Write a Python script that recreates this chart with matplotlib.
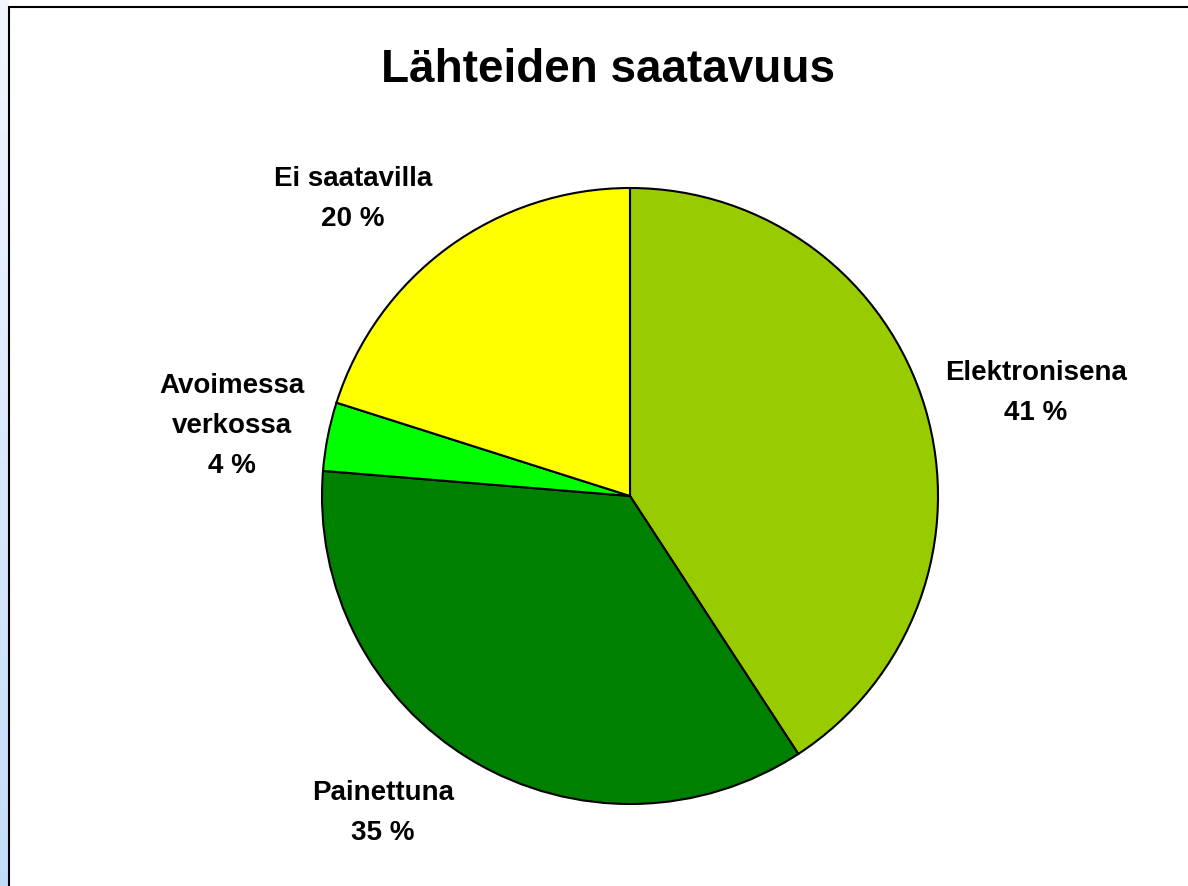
import numpy as np
import matplotlib
matplotlib.use("Agg")
from matplotlib import pyplot as plt
from matplotlib.patches import Rectangle

plt.rcParams['font.family'] = ['Liberation Sans', 'DejaVu Sans']

# data
labels = ["Elektronisena", "Painettuna", "Avoimessa\nverkossa", "Ei saatavilla"]
values = [40.8, 35.5, 3.6, 20.1]
shown = ["41 %", "35 %", "4 %", "20 %"]
colors = ["#99cc00", "#008000", "#00ff00", "#ffff00"]

# label centres in pie units (radius = 1)
label_pos = [(1.318, 0.335), (-0.802, -1.03), (-1.292, 0.228), (-0.899, 0.965)]

W, H = 1188, 886
fig = plt.figure(figsize=(W / 100, H / 100), dpi=100)

# light blue strip on the left (screenshot edge)
grad = np.linspace(0, 1, 256).reshape(-1, 1)
strip = fig.add_axes([0, 0, 9 / W, 1])
cmap = matplotlib.colors.LinearSegmentedColormap.from_list("b", ["#f2f7ff", "#c4dcfa"])
strip.imshow(grad, aspect="auto", extent=[0, 1, 0, 1], cmap=cmap)
strip.axis("off")

# frame of the chart area
fig.patches.append(Rectangle((9 / W, -0.01), 1.1, 1 - 7 / H + 0.01, transform=fig.transFigure,
                             fill=False, edgecolor="black", linewidth=1.5))

cx, cy, r = 630, 496, 308
ax = fig.add_axes([(cx - r) / W, (H - cy - r) / H, 2 * r / W, 2 * r / H])
wedges, texts = ax.pie(values, colors=colors, startangle=90, counterclock=False,
                       labels=[l + "\n" + s for l, s in zip(labels, shown)],
                       wedgeprops=dict(edgecolor="black", linewidth=1.5))
for t, p in zip(texts, label_pos):
    t.set_position(p)
    t.set_ha("center")
    t.set_va("center")
    t.set_fontsize(20)
    t.set_fontweight("bold")
    t.set_linespacing(1.7)
    t.set_clip_on(False)
ax.set_xlim(-1, 1)
ax.set_ylim(-1, 1)

fig.text(608 / W, 1 - 82 / H, "Lähteiden saatavuus", ha="center", va="baseline",
         fontsize=33, fontweight="bold")

fig.savefig("out.png", dpi=100)
